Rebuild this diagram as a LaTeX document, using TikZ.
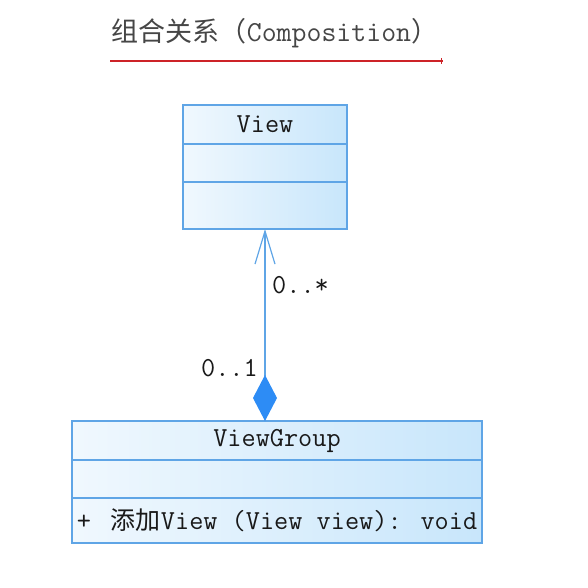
\documentclass[tikz,border=0pt]{standalone}
\usepackage{fontspec}
\newfontfamily\cjk{Noto Sans CJK SC}
\usetikzlibrary{positioning,arrows.meta}
\definecolor{umlline}{RGB}{95,165,230}
\definecolor{umllight}{RGB}{240,248,254}
\definecolor{umldark}{RGB}{200,230,251}
\definecolor{diamondblue}{RGB}{45,140,245}
\definecolor{titlered}{RGB}{205,35,40}
\definecolor{textgray}{RGB}{70,70,70}
\tikzset{
  part/.style={draw=umlline, line width=1.3pt, left color=umllight, right color=umldark,
    inner sep=0pt, outer sep=0pt, font=\fontsize{27.5}{30}\selectfont\ttfamily, text=black!90},
  mult/.style={font=\fontsize{27.5}{30}\selectfont\ttfamily, text=black!90, inner sep=0pt},
  composition/.style={umlline, line width=1.2pt,
    {Diamond[length=46pt,width=24pt,fill=diamondblue,color=diamondblue]}-{Straight Barb[length=33pt,width=20pt]}}
}
\begin{document}
\begin{tikzpicture}[x=1pt,y=-1pt]
    \useasboundingbox (0,0) rectangle (588,587);
    \node[font=\fontsize{29}{30}\selectfont\ttfamily, text=textgray] (title) at (275,33) {{\cjk\fontsize{27}{30}\selectfont 组合关系（}Composition{\cjk\fontsize{27}{30}\selectfont ）}};
    \draw[titlered, line width=1.6pt] (110,61) -- (443,61);
    \draw[titlered, line width=.8pt] (441,58) -- (441,64);
    % class View
    \node[part, minimum width=164pt, minimum height=39pt, anchor=north] (view) at (265,105) {View};
    \node[part, minimum width=164pt, minimum height=38pt, below=0pt of view] (viewattr) {};
    \node[part, minimum width=164pt, minimum height=47pt, below=0pt of viewattr] (viewops) {};
    % class ViewGroup
    \node[part, minimum width=410pt, minimum height=39pt, anchor=north] (group) at (277,421) {ViewGroup};
    \node[part, minimum width=410pt, minimum height=38pt, below=0pt of group] (groupattr) {};
    \node[part, minimum width=410pt, minimum height=45pt, below=0pt of groupattr] (groupops) {+\hspace{20pt}{\cjk\fontsize{25}{30}\selectfont 添加}View (View view): void};
    % composition
    \draw[composition] (group.north -| viewops.south) -- (viewops.south);
    \node[mult, anchor=west] (many) at (272,285) {0..*};
    \node[mult, anchor=east] (one) at (258,368) {0..1};
\end{tikzpicture}
\end{document}
